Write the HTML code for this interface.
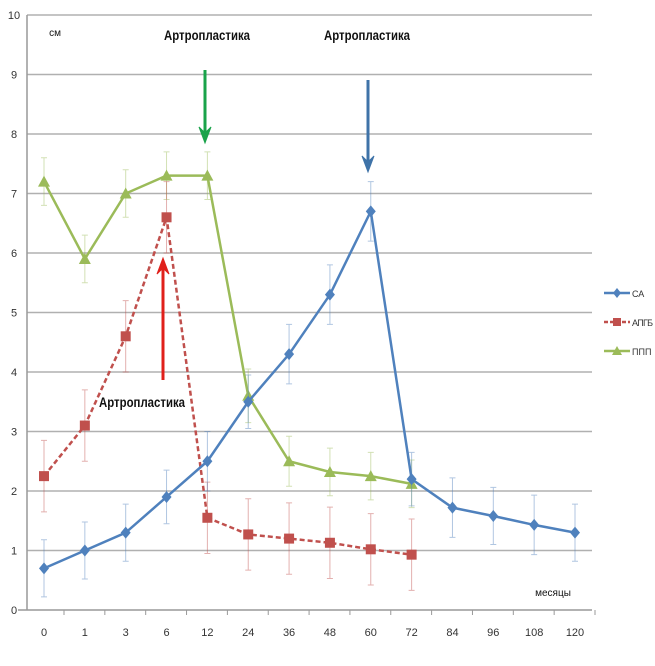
<!DOCTYPE html>
<html><head><meta charset="utf-8"><style>
body{margin:0;background:#fff;}
svg{display:block;font-family:"Liberation Sans","DejaVu Sans",sans-serif;}
</style></head><body>
<svg id="c" width="655" height="666"></svg>
<script>
const categories=["0","1","3","6","12","24","36","48","60","72","84","96","108","120"];
const saVals=[0.7,1.0,1.3,1.9,2.5,3.5,4.3,5.3,6.7,2.2,1.72,1.58,1.43,1.3];
const saErr=[0.48,0.48,0.48,0.45,0.5,0.45,0.5,0.5,0.5,0.45,0.5,0.48,0.5,0.48];
const apgbVals=[2.25,3.1,4.6,6.6,1.55,1.27,1.2,1.13,1.02,0.93];
const apgbErr=[0.6,0.6,0.6,0.6,0.6,0.6,0.6,0.6,0.6,0.6];
const pppVals=[7.2,5.9,7.0,7.3,7.3,3.6,2.5,2.32,2.25,2.12];
const pppErr=[0.4,0.4,0.4,0.4,0.4,0.45,0.42,0.4,0.4,0.4];
const yTicks=[0,1,2,3,4,5,6,7,8,9,10];
const NS="http://www.w3.org/2000/svg";
const svg=document.getElementById('c');
const X0=27,X1=592,Y0=610,Y10=15;
const xs=i=>X0+17+i*((575-44)/13);
const ys=v=>Y0-(Y0-Y10)*v/10;
function mk(t,a,p){const e=document.createElementNS(NS,t);for(const k in a)e.setAttribute(k,a[k]);(p||svg).appendChild(e);return e;}
const grid=mk('g',{});


yTicks.forEach(v=>{
 if(v>0){mk('line',{x1:X0,x2:X1,y1:ys(v),y2:ys(v),stroke:'#b0b0b0','stroke-width':1.5},grid);}
 const t=mk('text',{x:14,y:ys(v)+4,'font-size':11,'text-anchor':'middle',fill:'#333'});
 t.textContent=v;
 
 
});
const ya=mk('line',{x1:X0,x2:X0,y1:Y10,y2:Y0,stroke:'#999','stroke-width':1.5});


const xa=mk('line',{x1:18,x2:X1,y1:Y0,y2:Y0,stroke:'#999','stroke-width':1.5});


categories.forEach((c,i)=>{
 const t=mk('text',{x:xs(i),y:636,'font-size':11,'text-anchor':'middle',fill:'#333'});
 t.textContent=c;
 
 
 mk('line',{x1:xs(i)+20,x2:xs(i)+20,y1:Y0,y2:Y0+5,stroke:'#999'});
});
function series(vals,errs,color,dash,marker,name){
 const g=mk('g',{});
 
 
 vals.forEach((v,i)=>{
  mk('path',{d:`M${xs(i)},${ys(v-errs[i])}V${ys(v+errs[i])}M${xs(i)-3},${ys(v-errs[i])}h6M${xs(i)-3},${ys(v+errs[i])}h6`,stroke:color,'stroke-opacity':0.45,'stroke-width':1,fill:'none'},g);
 });
 mk('polyline',{points:vals.map((v,i)=>xs(i)+','+ys(v)).join(' '),fill:'none',stroke:color,'stroke-width':2.5,'stroke-dasharray':dash||''},g);
 vals.forEach((v,i)=>{
  const x=xs(i),y=ys(v);let m;
  if(marker==='d')m=mk('path',{d:`M${x},${y-6}L${x+5},${y}L${x},${y+6}L${x-5},${y}Z`,fill:color},g);
  else if(marker==='s')m=mk('rect',{x:x-5,y:y-5,width:10,height:10,fill:color},g);
  else m=mk('path',{d:`M${x},${y-6}L${x+6},${y+5}L${x-6},${y+5}Z`,fill:color},g);
  
  
 });
}
series(pppVals,pppErr,'#9bbb59','', 't','series-ppp');
series(apgbVals,apgbErr,'#c0504d','5,3','s','series-apgb');
series(saVals,saErr,'#4f81bd','', 'd','series-sa');
const leg=[['СА','#4f81bd','d',''],['АПГБ','#c0504d','s','4,2'],['ППП','#9bbb59','t','']];
leg.forEach((l,i)=>{
 const y=293+i*29;
 const g=mk('g',{});
 
 
 mk('line',{x1:604,x2:630,y1:y,y2:y,stroke:l[1],'stroke-width':2.5,'stroke-dasharray':l[3]},g);
 if(l[2]==='d')mk('path',{d:`M617,${y-5}L621,${y}L617,${y+5}L613,${y}Z`,fill:l[1]},g);
 else if(l[2]==='s')mk('rect',{x:613,y:y-4,width:8,height:8,fill:l[1]},g);
 else mk('path',{d:`M617,${y-5}L622,${y+4}L612,${y+4}Z`,fill:l[1]},g);
 const t=mk('text',{x:632,y:y+4,'font-size':9,fill:'#333'},g);t.textContent=l[0];
 if(l[0].length>3)t.setAttribute('textLength','21');
});
function txt(s,x,y,size,w,name,len){const t=mk('text',{x:x,y:y,'font-size':size,'font-weight':w,'text-anchor':'middle',fill:'#111'});t.textContent=s;
 if(len){t.setAttribute('textLength',len);t.setAttribute('lengthAdjust','spacingAndGlyphs');}
 
 }
txt('Артропластика',207,40,14,'bold','annotation-12',86);
txt('Артропластика',367,40,14,'bold','annotation-60',86);
txt('Артропластика',142,407,14,'bold','annotation-6',86);
txt('см',55,36,10,'normal','y-axis-title');
txt('месяцы',553,596,10,'normal','x-axis-title');
function arrow(x,y1,y2,color,name){const g=mk('g',{});
 
 
 const dir=y2>y1?1:-1;
 mk('line',{x1:x,x2:x,y1:y1,y2:y2-dir*8,stroke:color,'stroke-width':3},g);
 mk('path',{d:`M${x-6},${y2-dir*16}L${x},${y2}L${x+6},${y2-dir*16}L${x},${y2-dir*10}Z`,fill:color,stroke:color,'stroke-width':1},g);}
arrow(205,70,143,'#1aa34a','arrow-green');
arrow(368,80,172,'#3f73a8','arrow-blue');
arrow(163,380,258,'#e0201b','arrow-red');
</script>
</body></html>
